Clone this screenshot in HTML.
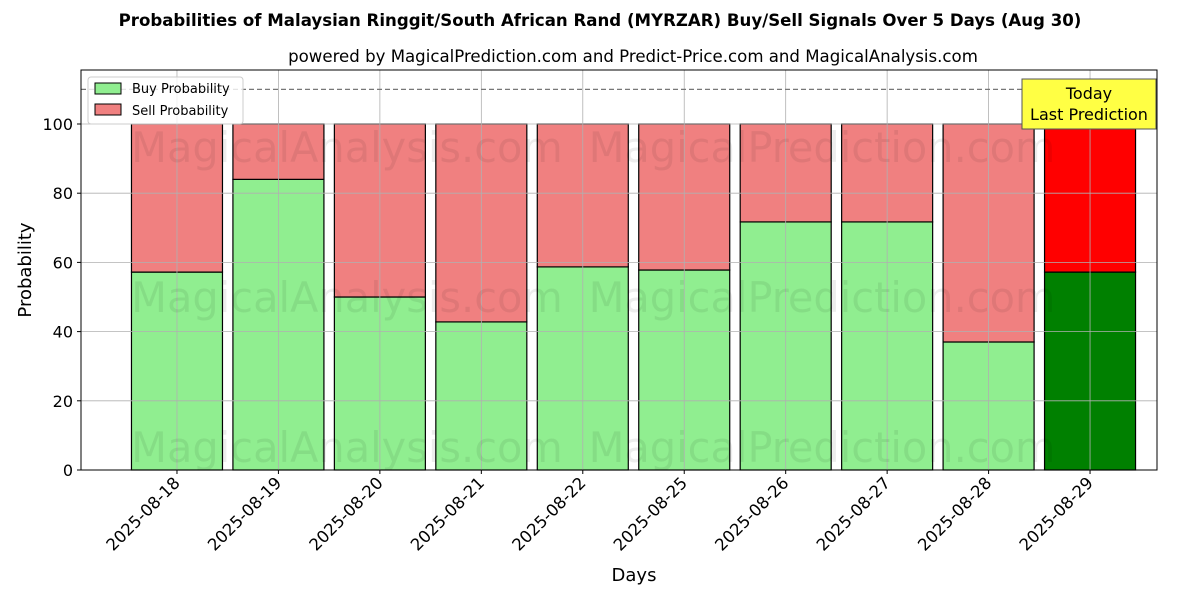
<!DOCTYPE html>
<html><head><meta charset="utf-8"><style>
body{margin:0;background:#fff;}
svg{display:block;font-family:"DejaVu Sans","Liberation Sans",sans-serif;}
</style></head><body>
<svg id="chart" width="1200" height="600">
<text x="600" y="26" text-anchor="middle" font-size="16.6" font-weight="bold">Probabilities of Malaysian Ringgit/South African Rand (MYRZAR) Buy/Sell Signals Over 5 Days (Aug 30)</text>
<text x="633" y="62" text-anchor="middle" font-size="16.6">powered by MagicalPrediction.com and Predict-Price.com and MagicalAnalysis.com</text>
<g id="bars"></g>
<g id="grid"></g>
<g id="wm" fill="#000" fill-opacity="0.07" font-size="41.5">
<text x="347" y="162" text-anchor="middle">MagicalAnalysis.com</text>
<text x="822" y="162" text-anchor="middle">MagicalPrediction.com</text>
<text x="347" y="312" text-anchor="middle">MagicalAnalysis.com</text>
<text x="822" y="312" text-anchor="middle">MagicalPrediction.com</text>
<text x="347" y="462" text-anchor="middle">MagicalAnalysis.com</text>
<text x="822" y="462" text-anchor="middle">MagicalPrediction.com</text>
</g>
<line x1="81" x2="1157" y1="89.4" y2="89.4" stroke="#777" stroke-dasharray="5,3" stroke-width="1.2"/>
<rect x="81" y="70" width="1076" height="400" fill="none" stroke="#000" stroke-width="1"/>
<g id="axes"></g>
<g>
<rect x="88" y="77" width="155" height="47" fill="#fff" fill-opacity="0.8" stroke="#ccc" rx="3"/>
<rect x="95" y="83" width="26" height="11" fill="#90ee90" stroke="#000"/>
<text x="132" y="93" font-size="13">Buy Probability</text>
<rect x="95" y="104" width="26" height="11" fill="#f08080" stroke="#000"/>
<text x="132" y="115" font-size="13">Sell Probability</text>
</g>
<g>
<rect x="1022" y="79" width="134" height="50" fill="#ffff44" stroke="#555"/>
<text x="1089" y="99" text-anchor="middle" font-size="16">Today</text>
<text x="1089" y="120" text-anchor="middle" font-size="16">Last Prediction</text>
</g>
<text x="634" y="581" text-anchor="middle" font-size="18">Days</text>
<text transform="translate(31,270) rotate(-90)" text-anchor="middle" font-size="18">Probability</text>
</svg>
<script>
const categories=["2025-08-18","2025-08-19","2025-08-20","2025-08-21","2025-08-22","2025-08-25","2025-08-26","2025-08-27","2025-08-28","2025-08-29"];
const buyValues=[57.2,84,50,42.8,58.7,57.8,71.7,71.7,37,57.2];
const sellValues=[42.8,16,50,57.2,41.3,42.2,28.3,28.3,63,42.8];
const yTicks=[0,20,40,60,80,100];
const NS="http://www.w3.org/2000/svg";
const L=81,R=1157,T=70,B=470;
const xs=i=>L+(i+0.946)/(10.606)*(R-L);
const ys=v=>B-v*3.46;
const bw=91;
function mk(tag,attrs,parent){const e=document.createElementNS(NS,tag);for(const k in attrs)e.setAttribute(k,attrs[k]);parent.appendChild(e);return e;}
const grid=document.getElementById('grid'),bars=document.getElementById('bars'),axes=document.getElementById('axes');
yTicks.forEach(t=>{
 const g=mk('line',{x1:L,x2:R,y1:ys(t),y2:ys(t),stroke:'#b0b0b0','stroke-width':0.8},grid);
 
 
 mk('line',{x1:L-4,x2:L,y1:ys(t),y2:ys(t),stroke:'#000'},axes);
 const tx=mk('text',{x:L-8,y:ys(t)+6,'text-anchor':'end','font-size':16},axes);
 tx.textContent=t;
 
 
});
categories.forEach((c,i)=>{
 const x=xs(i);
 const g=mk('line',{x1:x,x2:x,y1:T,y2:B,stroke:'#b0b0b0','stroke-width':0.8},grid);
 
 
 const last=i===categories.length-1;
 const b=mk('rect',{x:x-bw/2,y:ys(buyValues[i]),width:bw,height:B-ys(buyValues[i]),fill:last?'#008000':'#90ee90',stroke:'#000','stroke-width':1.2},bars);
 
 
 const s=mk('rect',{x:x-bw/2,y:ys(buyValues[i]+sellValues[i]),width:bw,height:ys(buyValues[i])-ys(buyValues[i]+sellValues[i]),fill:last?'#ff0000':'#f08080',stroke:'#000','stroke-width':1.2},bars);
 
 
 mk('line',{x1:x,x2:x,y1:B,y2:B+4,stroke:'#000'},axes);
 const tx=mk('text',{x:x+4,y:B+14,'text-anchor':'end','font-size':16.5,transform:`rotate(-45 ${x+4} ${B+14})`},axes);
 tx.textContent=c;
 
 
});
</script>
</body></html>
